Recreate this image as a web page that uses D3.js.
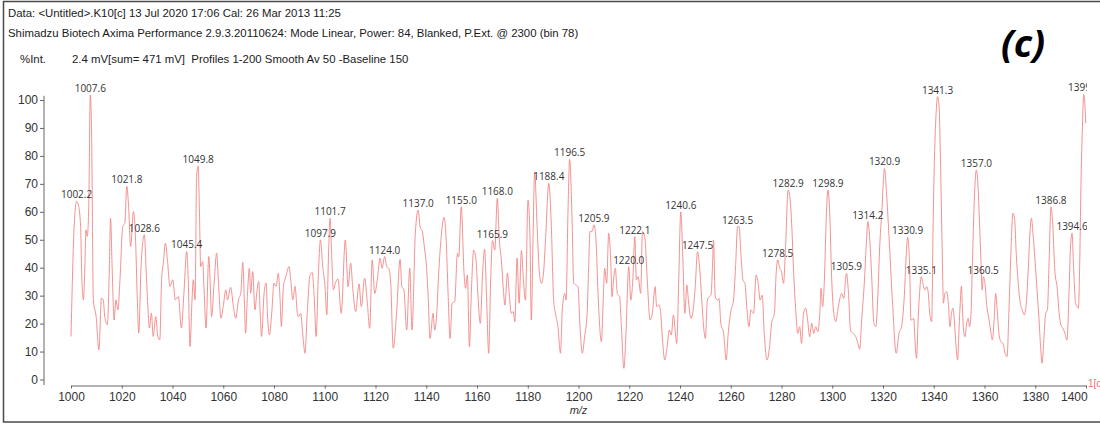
<!DOCTYPE html>
<html>
<head>
<meta charset="utf-8">
<script src="https://d3js.org/d3.v7.min.js"></script>
<style>
  body { margin: 0; background: #fff; }
  svg { display: block; }
</style>
</head>
<body>
<div id="chart"></div>
<script>
// m/z positions and %Int values
var mz = [
  1000.0,1001.3,1002.2,1002.9,1003.8,1004.2,1004.9,1005.5,1005.9,1006.4,
  1007.0,1007.6,1008.1,1008.8,1009.9,1011.0,1012.0,1012.7,1013.3,1014.3,
  1015.1,1015.6,1016.2,1017.0,1017.7,1018.5,1019.3,1020.4,1021.2,1022.0,
  1022.7,1023.5,1024.6,1025.4,1026.1,1026.7,1027.6,1028.9,1029.6,1030.1,
  1030.9,1031.7,1032.4,1033.4,1034.2,1035.0,1035.7,1036.4,1037.2,1038.0,
  1039.0,1040.1,1041.1,1042.3,1043.5,1044.5,1045.6,1046.2,1046.9,1047.7,
  1048.2,1048.9,1049.5,1050.1,1050.6,1051.1,1051.9,1052.5,1053.2,1054.3,
  1054.8,1055.4,1056.4,1057.4,1058.2,1059.1,1060.0,1061.0,1061.7,1062.9,
  1064.0,1064.9,1066.0,1066.9,1067.7,1068.3,1068.8,1069.5,1070.3,1070.8,
  1071.6,1072.5,1073.2,1074.0,1074.5,1075.1,1076.1,1076.9,1077.4,1078.2,
  1079.1,1080.0,1080.8,1081.7,1082.4,1082.9,1083.7,1084.3,1085.0,1085.9,
  1086.6,1087.4,1088.3,1089.2,1089.7,1090.5,1091.3,1092.2,1093.1,1094.2,
  1095.1,1095.9,1096.6,1097.5,1098.3,1099.2,1100.1,1100.8,1101.5,1102.1,
  1102.7,1103.4,1104.2,1105.2,
  1106.5,1108.1,1109.2,1110.2,1111.1,1112.2,1113.5,1114.4,1115.7,1116.8,
  1117.7,1118.7,1119.7,1120.7,1121.8,1122.6,1123.6,1124.4,1125.2,1126.0,
  1127.0,1128.3,1129.7,1130.4,1131.2,1132.3,1133.5,1134.4,1135.7,1136.8,
  1137.7,1138.3,1139.4,1140.0,1140.7,1141.5,1142.7,1143.3,1144.1,1144.9,
  1145.9,1147.0,1147.8,1148.6,1149.4,1150.2,1151.2,1152.3,1152.8,1153.8,
  1154.9,1155.5,1156.2,1157.0,1157.8,1158.7,1159.6,1160.4,1161.3,1162.2,
  1163.0,1163.8,1164.6,1165.4,1166.1,1167.0,1168.0,1168.8,1169.6,1170.4,
  1171.0,1172.0,1172.8,1173.5,1174.3,1174.9,1175.8,1176.6,1177.5,1178.3,
  1179.1,1180.1,1180.9,1181.4,1182.1,1182.7,1183.7,1184.6,1185.4,1186.2,
  1187.0,1188.3,1189.3,1190.2,1190.9,1191.9,1192.9,1193.6,1194.6,1195.1,
  1195.9,1196.5,1197.5,1198.1,1199.0,1199.8,1200.6,1201.5,1202.4,1203.4,
  1204.0,1204.5,1205.3,1206.1,1206.9,1207.7,1209.0,1209.8,1210.3,1211.1,
  1211.9,1212.7,1213.2,1213.8,1214.5,1215.3,1216.2,1216.9,1217.9,1218.7,
  1219.8,1220.6,1221.4,1222.2,1222.8,1223.5,1224.5,
  1225.2,1226.1,1227.1,1228.2,1229.1,1230.2,1230.8,1231.8,1232.4,1233.1,
  1234.0,1234.8,1235.8,1236.6,1237.4,1238.2,1238.7,1239.5,1240.3,1241.1,
  1241.9,1242.7,1243.3,1244.3,1245.0,1246.0,1246.9,1247.7,1248.5,1249.3,
  1250.0,1250.8,1251.5,1252.2,1252.8,1253.2,1253.9,1254.8,1255.4,1256.1,
  1257.2,1258.2,1259.0,1260.0,1261.1,1261.9,1262.7,1263.3,1264.0,1264.8,
  1265.6,1266.4,1267.2,1267.9,1269.0,1270.0,1270.8,1271.6,1272.4,1273.2,
  1274.3,1275.3,1276.1,1277.2,1277.9,1278.5,1279.3,1280.0,1280.8,1281.6,
  1282.6,1283.2,1284.0,1284.8,1285.6,1286.4,1287.2,1287.9,1288.7,1289.5,
  1290.3,1291.1,1291.9,1292.7,1293.5,1294.3,1295.1,1295.6,1296.2,1296.9,
  1297.7,1298.3,1299.0,1299.8,1300.6,1301.4,1302.2,1302.9,1303.7,1304.5,
  1305.6,1306.4,1307.2,1308.2,1309.3,1310.1,1310.8,1311.6,1312.7,1313.5,
  1314.0,1314.8,1315.6,1316.4,1317.2,1318.0,1318.7,1319.5,1320.6,1321.4,
  1322.3,1323.7,1325.2,1326.3,1327.3,1328.3,1329.2,1329.7,1330.5,1331.0,
  1331.5,1332.1,1332.6,1333.2,1333.9,1334.4,1335.1,1335.7,1336.5,1337.2,
  1337.8,1338.4,1339.2,1339.7,1340.2,1341.0,1341.5,1342.1,1342.7,1343.4,
  1343.8,1344.4,1345.1,1345.7,1346.4,1347.0,1347.6,1348.1,1348.8,1349.4,
  1349.9,1350.5,1350.9,1351.3,1351.9,1352.3,1353.0,1353.6,1354.1,1354.7,
  1355.2,1355.8,1356.8,1357.3,1358.1,1358.6,1359.1,1359.5,1360.2,1360.8,
  1361.8,1362.6,1363.1,1363.7,1364.4,1365.0,1365.7,1366.5,1367.3,1368.1,
  1368.9,1369.6,1370.4,1371.2,1371.9,1372.5,1373.3,1374.1,1374.9,1375.7,
  1376.5,1377.3,1377.9,1378.5,1379.1,1379.9,1380.7,1381.5,1382.1,1382.7,
  1383.3,1384.1,1384.8,1385.4,1386.2,1386.7,1387.8,1388.6,1389.4,1390.1,
  1390.9,1391.7,1392.5,1393.3,1393.9,1394.5,1395.1,1395.9,1396.5,1397.0,
  1397.5,1398.0,1398.6,1399.1,1399.6,1399.9
];
var intensity = [
  15.4,55.9,63.7,62.5,54.7,38.0,28.5,41.6,53.5,51.2,
  61.9,101.8,89.3,28.5,22.5,10.6,29.1,28.5,22.5,19.6,
  39.2,57.7,40.4,21.3,28.5,24.9,35.7,54.7,55.9,69.1,
  61.9,47.6,60.1,51.2,29.7,16.6,40.4,51.8,39.2,29.7,
  18.4,23.7,15.4,22.5,15.4,14.2,35.7,41.6,48.8,42.8,
  33.3,35.7,28.5,29.7,18.4,30.9,45.8,35.7,11.8,28.5,
  35.7,28.5,72.6,76.4,60.7,40.4,42.2,30.9,18.4,44.0,
  35.7,22.5,34.5,45.2,33.3,21.9,26.1,32.1,28.5,33.0,
  26.1,21.9,28.5,30.9,41.9,28.5,16.6,29.7,39.8,30.9,
  38.6,24.9,30.9,35.1,24.9,15.4,30.9,34.5,23.7,16.0,
  23.7,34.5,33.3,38.0,28.5,19.0,33.3,35.7,38.0,40.4,
  35.7,28.5,33.3,23.7,22.5,23.7,16.6,9.4,23.7,37.4,
  38.3,28.5,15.4,38.0,50.0,40.4,33.3,23.1,45.2,57.7,
  45.2,32.1,34.5,36.0,
  23.7,49.9,33.2,41.6,32.0,24.3,34.2,26.1,36.2,27.3,
  18.3,42.8,30.8,35.6,43.4,39.8,44.0,40.4,39.8,34.4,
  11.2,23.7,43.0,33.2,32.0,17.7,39.8,17.7,52.3,60.6,
  54.1,53.5,46.3,41.6,30.8,14.7,23.7,17.7,23.1,38.0,
  51.1,58.0,51.1,30.8,14.7,27.3,27.8,45.1,43.9,61.8,
  38.0,32.6,37.4,11.7,32.0,46.3,42.8,29.6,20.1,38.0,
  46.6,28.4,9.4,35.6,49.7,46.3,64.8,49.9,42.8,32.0,
  26.6,38.0,29.6,23.7,24.3,20.7,43.4,27.3,46.1,35.6,
  28.4,64.2,49.9,21.3,51.1,74.3,54.7,38.0,34.4,38.0,
  49.9,70.2,54.7,28.4,23.7,18.9,9.4,24.9,30.8,28.4,
  61.8,78.8,55.9,34.4,33.8,33.2,18.9,9.4,15.3,23.7,
  40.4,52.9,52.9,55.3,49.9,30.8,13.5,29.6,39.8,34.4,
  52.3,42.8,29.6,35.6,39.8,30.8,29.6,18.9,4.0,16.5,
  40.4,28.4,35.6,51.1,35.6,36.8,30.8,
  52.9,51.1,35.6,21.3,23.7,33.2,26.1,26.7,23.7,14.1,
  7.0,10.6,17.7,15.9,23.1,16.5,12.9,35.6,60.0,43.9,
  23.7,33.8,28.4,21.9,23.7,33.2,45.7,40.4,29.6,18.9,
  14.7,28.4,29.6,30.2,40.4,49.9,29.6,28.4,29.0,20.1,
  16.5,7.0,16.5,24.3,28.4,40.4,54.7,54.7,45.1,35.6,
  34.4,24.9,18.9,24.9,23.7,37.4,34.4,28.4,30.2,16.5,
  7.0,11.7,20.1,23.7,38.0,42.8,39.8,38.6,34.4,47.5,
  67.8,66.0,55.9,38.0,24.9,16.5,18.9,12.9,23.7,25.5,
  21.3,15.3,20.1,16.5,18.9,17.1,23.7,32.6,26.1,35.6,
  59.5,67.8,59.5,35.6,23.7,20.7,24.9,28.4,30.8,29.0,
  38.0,30.8,17.7,16.5,15.3,12.9,10.8,21.3,35.6,49.9,
  56.5,49.9,35.6,20.1,18.9,30.8,47.5,59.5,75.5,66.6,
  52.3,28.4,9.4,16.5,18.9,28.4,45.1,50.9,40.4,21.3,
  21.3,21.9,14.1,7.6,22.5,30.8,36.8,34.4,32.0,33.2,
  31.4,23.7,20.7,52.3,76.2,96.4,101.2,97.6,76.2,42.8,
  27.3,30.8,31.4,27.8,18.9,23.7,25.5,21.3,11.8,7.0,
  16.5,28.4,33.4,24.9,16.5,15.3,20.1,21.9,18.9,23.7,
  40.4,59.5,75.0,71.4,54.7,42.8,32.0,36.8,34.4,27.3,
  21.3,16.5,14.1,20.1,30.8,24.9,16.5,13.5,12.9,9.4,
  8.2,23.7,45.1,59.5,57.1,45.1,34.4,27.3,24.9,23.1,
  27.8,40.4,52.3,57.7,52.3,42.8,32.0,21.3,11.8,5.8,
  12.9,23.7,24.9,40.4,61.8,58.3,38.0,33.2,23.7,19.5,
  18.3,16.5,14.1,30.8,47.5,52.3,40.4,27.3,26.1,25.5,
  40.4,69.0,90.5,102.0,97.6,91.7
];

// annotated peak values
var peakLabels = [
  "1002.2","1007.6","1021.8","1028.6","1045.4","1049.8","1097.9","1101.7",
  "1124.0","1137.0","1155.0","1165.9","1168.0","1188.4","1196.5","1205.9",
  "1220.0","1222.1","1240.6","1247.5","1263.5","1278.5","1282.9","1298.9",
  "1305.9","1314.2","1320.9","1330.9","1335.1","1341.3","1357.0","1360.5",
  "1386.8","1394.6","1399.1"
];

var xTicks = d3.range(1000, 1401, 20);
var xMinorTicks = d3.range(1000, 1401, 5);
var yTicks = d3.range(0, 101, 10);
var yMinorTicks = d3.range(0, 101, 2);

var headerLines = [
  "Data: <Untitled>.K10[c] 13 Jul 2020 17:06 Cal: 26 Mar 2013 11:25",
  "Shimadzu Biotech Axima Performance 2.9.3.20110624: Mode Linear, Power: 84, Blanked, P.Ext. @ 2300 (bin 78)"
];
var yTitle = "%Int.";
var acqInfo = "2.4 mV[sum= 471 mV]  Profiles 1-200 Smooth Av 50 -Baseline 150";
var panelTag = "(c)";

var width = 1100, height = 427;

var svg = d3.select('#chart').append('svg')
    .attr('width', width)
    .attr('height', height);

var x = d3.scaleLinear().domain([1000, 1400]).range([71, 1086]);
var y = d3.scaleLinear().domain([0, 100]).range([379.5, 100]);
var axisY = 385.5, axisX = 44;
var font = 'Liberation Sans, Arial, sans-serif';

// frame around the panel
svg.append('rect')
    .attr('x', 3.5).attr('y', 1.5)
    .attr('width', 1200).attr('height', 420.5)
    .attr('fill', 'none')
    .attr('stroke', '#4a4a4a')
    .attr('stroke-width', 1.5);

// header text
svg.selectAll('text.header')
    .data(headerLines)
    .enter().append('text')
    .attr('class', 'header')
    .attr('x', 8)
    .attr('y', function(d, i) { return 17 + i * 20; })
    .style('font-family', font)
    .style('font-size', '11.4px')
    .style('fill', '#1a1a1a')
    .text(function(d) { return d; });

svg.append('text')
    .attr('x', 20).attr('y', 63)
    .style('font-family', font)
    .style('font-size', '11.4px')
    .style('fill', '#1a1a1a')
    .text(yTitle);

svg.append('text')
    .attr('x', 72).attr('y', 63)
    .attr('xml:space', 'preserve')
    .style('font-family', font)
    .style('font-size', '11.4px')
    .style('fill', '#1a1a1a')
    .text(acqInfo);

svg.append('text')
    .attr('x', 1023).attr('y', 57)
    .attr('text-anchor', 'middle')
    .style('font-family', 'Open Sans, sans-serif')
    .style('font-weight', '700')
    .style('font-style', 'italic')
    .style('font-size', '38px')
    .style('fill', '#000')
    .text(panelTag);

// x axis
var xAxisG = svg.append('g')
    .attr('transform', 'translate(0,' + axisY + ')');
xAxisG.call(d3.axisBottom(x).tickValues(xMinorTicks).tickFormat('').tickSize(2).tickSizeOuter(0));
xAxisG.call(d3.axisBottom(x).tickValues(xTicks).tickFormat(d3.format('d'))
    .tickSize(3).tickPadding(4).tickSizeOuter(0));
xAxisG.selectAll('path, line').attr('stroke', '#666');
xAxisG.selectAll('text')
    .style('font-family', font)
    .style('font-size', '12px')
    .style('fill', '#333');
xAxisG.selectAll('.tick').filter(function(d) { return d === 1400; })
    .select('text').attr('text-anchor', 'end').attr('dx', '0.1em');

svg.append('text')
    .attr('x', x(1200)).attr('y', 414)
    .attr('text-anchor', 'middle')
    .style('font-family', font)
    .style('font-style', 'italic')
    .style('font-size', '11px')
    .style('fill', '#333')
    .text('m/z');

svg.append('text')
    .attr('x', x(1400) + 2).attr('y', axisY + 1)
    .style('font-family', font)
    .style('font-size', '10px')
    .style('fill', '#f07070')
    .text('1[c]');

// y axis
var yAxisG = svg.append('g')
    .attr('transform', 'translate(' + axisX + ',0)');
yAxisG.call(d3.axisLeft(y).tickValues(yMinorTicks).tickFormat('').tickSize(2).tickSizeOuter(0));
yAxisG.call(d3.axisLeft(y).tickValues(yTicks).tickSize(4).tickPadding(2).tickSizeOuter(0));
yAxisG.selectAll('path.domain').remove();
yAxisG.append('line')
    .attr('x1', 0).attr('x2', 0)
    .attr('y1', y(-2)).attr('y2', y(101.5));
yAxisG.selectAll('line').attr('stroke', '#666');
yAxisG.selectAll('text')
    .style('font-family', font)
    .style('font-size', '12px')
    .style('fill', '#333');

// spectrum trace
var points = mz.map(function(m, i) { return [m, intensity[i]]; });

svg.append('defs').append('clipPath')
    .attr('id', 'plotClip')
    .append('rect')
    .attr('x', 0).attr('y', 0)
    .attr('width', x(1400) + 1).attr('height', height);

var line = d3.line()
    .x(function(d) { return x(d[0]); })
    .y(function(d) { return y(d[1]); })
    .curve(d3.curveMonotoneX);

svg.append('path')
    .datum(points)
    .attr('d', line)
    .attr('fill', 'none')
    .attr('stroke', '#f38585')
    .attr('stroke-width', 0.9);

// peak labels, sitting on the local maximum nearest each annotated value
var labelData = peakLabels.map(function(lbl) {
    var v = +lbl;
    var near = points.filter(function(p) { return Math.abs(p[0] - v) <= 1.6; });
    var top = near.reduce(function(a, b) { return b[1] > a[1] ? b : a; });
    return { text: lbl, mz: top[0], val: top[1] };
});

svg.append('g')
    .attr('clip-path', 'url(#plotClip)')
    .selectAll('text')
    .data(labelData)
    .enter().append('text')
    .attr('x', function(d) { return x(d.mz); })
    .attr('y', function(d) { return y(d.val) - 3; })
    .attr('text-anchor', 'middle')
    .style('font-family', 'Open Sans, sans-serif')
    .style('font-size', '10px')
    .style('fill', '#333')
    .text(function(d) { return d.text; });
</script>
</body>
</html>
